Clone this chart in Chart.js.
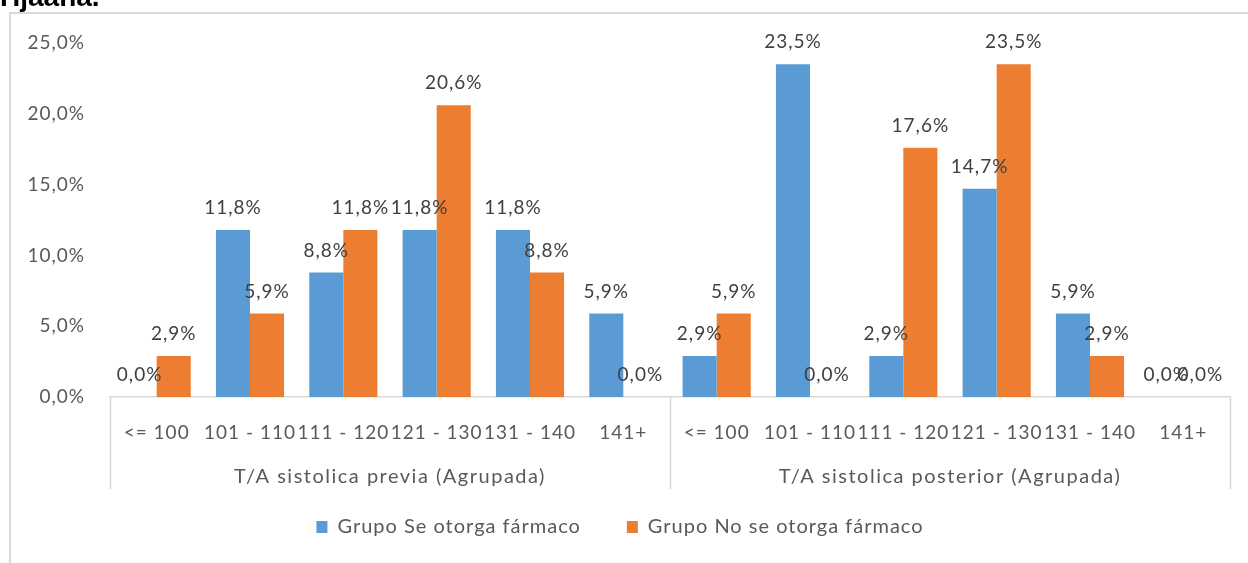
<!DOCTYPE html>
<html lang="es">
<head>
<meta charset="UTF-8">
<title>T/A sistolica (Agrupada)</title>
<script src="https://cdn.jsdelivr.net/npm/chart.js@4.4.0/dist/chart.umd.min.js"></script>
<style>
  html, body { margin: 0; padding: 0; background: #fff; }
  #wrap { width: 1248px; height: 563px; }
</style>
</head>
<body>
<div id="wrap"><canvas id="chart" width="1248" height="563"></canvas></div>
<script>
// datos
const categories = ['<= 100', '101 - 110', '111 - 120', '121 - 130', '131 - 140', '141+',
                    '<= 100', '101 - 110', '111 - 120', '121 - 130', '131 - 140', '141+'];
const groups = ['T/A sistolica previa (Agrupada)', 'T/A sistolica posterior (Agrupada)'];
const seOtorga   = [0.0, 11.8, 8.8, 11.8, 11.8, 5.9, 2.9, 23.5, 2.9, 14.7, 5.9, 0.0];
const noSeOtorga = [2.9, 5.9, 11.8, 20.6, 8.8, 0.0, 5.9, 0.0, 17.6, 23.5, 2.9, 0.0];
const yTicks = [0, 5, 10, 15, 20, 25];

const FONT = 'Lato, "Liberation Sans", sans-serif';
const GREY = '#d9d9d9';
const pct = v => v.toFixed(1).replace('.', ',') + '%';

// el texto de Excel sale más espaciado
const spacing = {
  id: 'spacing',
  beforeLayout(chart) { chart.ctx.letterSpacing = '1px'; },
  beforeDraw(chart) { chart.ctx.letterSpacing = '1px'; }
};

// marco, título cortado, separadores, etiquetas de grupo y de datos
const extras = {
  id: 'extras',
  beforeDraw(chart) {
    const ctx = chart.ctx;
    ctx.save();
    ctx.letterSpacing = '0px';
    ctx.fillStyle = '#000';
    ctx.font = 'bold 28px "Liberation Sans", sans-serif';
    ctx.textBaseline = 'alphabetic';
    ctx.fillText('Hjaana.', 0, 6);
    ctx.strokeStyle = GREY;
    ctx.lineWidth = 2;
    ctx.beginPath();
    ctx.moveTo(10, 13); ctx.lineTo(1248, 13);
    ctx.moveTo(10, 12); ctx.lineTo(10, 563);
    ctx.stroke();
    ctx.restore();
  },
  afterDraw(chart) {
    const ctx = chart.ctx;
    const x = chart.scales.x;
    const area = chart.chartArea;
    const half = categories.length / 2;
    const mid = (x.getPixelForValue(half - 1) + x.getPixelForValue(half)) / 2;
    ctx.save();
    ctx.strokeStyle = GREY;
    ctx.lineWidth = 1.5;
    ctx.beginPath();
    [area.left, mid, area.right].forEach(px => {
      ctx.moveTo(Math.round(px) + 0.5, area.bottom);
      ctx.lineTo(Math.round(px) + 0.5, area.bottom + 92);
    });
    ctx.stroke();

    ctx.fillStyle = '#595959';
    ctx.font = '20px ' + FONT;
    ctx.letterSpacing = '1.5px';
    ctx.textAlign = 'center';
    ctx.textBaseline = 'middle';
    ctx.fillText(groups[0], (area.left + mid) / 2, area.bottom + 80);
    ctx.fillText(groups[1], (mid + area.right) / 2, area.bottom + 80);

    ctx.fillStyle = '#404040';
    ctx.font = '19px ' + FONT;
    ctx.letterSpacing = '1px';
    chart.data.datasets.forEach((ds, i) => {
      chart.getDatasetMeta(i).data.forEach((bar, j) => {
        ctx.fillText(pct(ds.data[j]), bar.x, bar.y - 22);
      });
    });
    ctx.restore();
  }
};

new Chart(document.getElementById('chart'), {
  type: 'bar',
  data: {
    labels: categories,
    datasets: [
      { label: 'Grupo Se otorga fármaco', data: seOtorga, backgroundColor: '#5b9bd5' },
      { label: 'Grupo No se otorga fármaco', data: noSeOtorga, backgroundColor: '#ed7d31' }
    ]
  },
  options: {
    responsive: false,
    animation: false,
    categoryPercentage: 0.73,
    barPercentage: 1.0,
    layout: { padding: { left: 10, right: 18, top: 43, bottom: 16 } },
    plugins: {
      tooltip: { enabled: false },
      legend: {
        position: 'bottom',
        labels: {
          boxWidth: 11, boxHeight: 12, padding: 46,
          color: '#595959', font: { family: FONT, size: 20 }
        }
      }
    },
    scales: {
      x: {
        grid: { display: false, drawTicks: false },
        border: { display: true, color: GREY, width: 1.5 },
        ticks: {
          autoSkip: false, maxRotation: 0, padding: 24,
          color: '#595959', font: { family: FONT, size: 19 }
        },
        afterFit(s) { s.height = 74; }
      },
      y: {
        min: 0, max: 25,
        grid: { display: false, drawTicks: false },
        border: { display: false },
        afterBuildTicks(s) { s.ticks = yTicks.map(v => ({ value: v })); },
        ticks: {
          padding: 25, color: '#595959', font: { family: FONT, size: 19 },
          callback: v => pct(v)
        },
        afterFit(s) { s.width = 100; }
      }
    }
  },
  plugins: [spacing, extras]
});
</script>
</body>
</html>
